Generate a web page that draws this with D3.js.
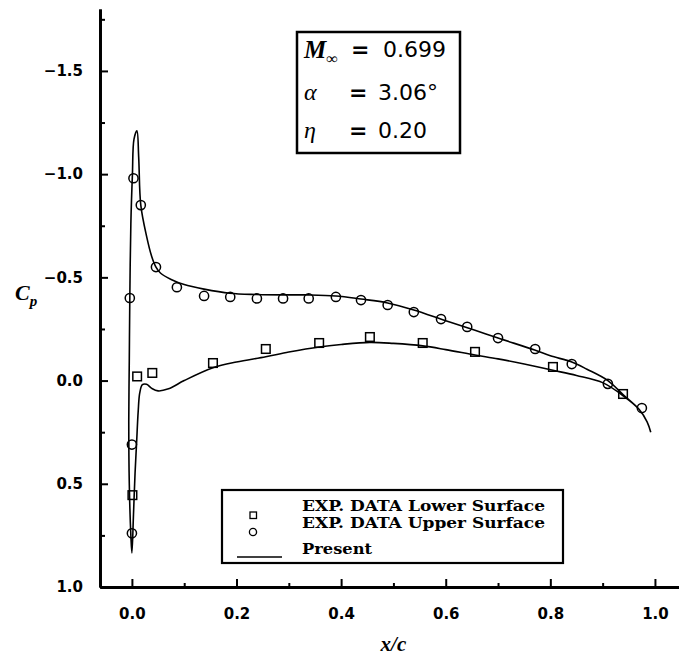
<!DOCTYPE html>
<html>
<head>
<meta charset="utf-8">
<script src="https://cdn.jsdelivr.net/npm/d3@7"></script>
<style>
  body { margin: 0; background: #fff; }
  svg { display: block; }
</style>
</head>
<body>
<script>
// experimental points, upper surface (circles)
var upperX  = [0.0, 0.0, -0.004, 0.003, 0.017, 0.046, 0.086, 0.138, 0.188, 0.239, 0.289, 0.338,
               0.39, 0.438, 0.489, 0.539, 0.591, 0.641, 0.70, 0.771, 0.841, 0.91, 0.975];
var upperCp = [0.74, 0.31, -0.40, -0.98, -0.85, -0.55, -0.452, -0.41, -0.405, -0.398, -0.398, -0.398,
               -0.405, -0.39, -0.366, -0.332, -0.298, -0.26, -0.206, -0.153, -0.08, 0.016, 0.133];

// experimental points, lower surface (squares)
var lowerX  = [0.001, 0.01, 0.039, 0.155, 0.256, 0.358, 0.455, 0.556, 0.656, 0.805, 0.939];
var lowerCp = [0.555, -0.02, -0.037, -0.085, -0.153, -0.182, -0.211, -0.182, -0.139, -0.066, 0.065];

// computed curve ("Present"), traced from upper TE round the LE to lower TE
var presentX  = [0.992, 0.985, 0.97, 0.94, 0.91, 0.87, 0.841, 0.80, 0.77, 0.70, 0.656, 0.60, 0.539,
                 0.489, 0.438, 0.39, 0.338, 0.289, 0.239, 0.187, 0.138, 0.10, 0.075, 0.055, 0.046,
                 0.038, 0.028, 0.017, 0.013, 0.0096, 0.004, 0.001, -0.002, -0.004, -0.005, -0.006,
                 -0.005, -0.002, 0.0, 0.003, 0.006, 0.009, 0.012, 0.015, 0.02, 0.028, 0.038, 0.05,
                 0.07, 0.10, 0.155, 0.20, 0.256, 0.30, 0.358, 0.40, 0.455, 0.50, 0.556, 0.60, 0.656,
                 0.70, 0.75, 0.805, 0.85, 0.90, 0.94, 0.97, 0.985, 0.992];
var presentCp = [0.25, 0.20, 0.14, 0.07, 0.0, -0.055, -0.09, -0.12, -0.148, -0.206, -0.244, -0.29, -0.342,
                 -0.376, -0.395, -0.41, -0.415, -0.415, -0.417, -0.423, -0.443, -0.465, -0.49, -0.52, -0.55,
                 -0.60, -0.70, -0.85, -1.08, -1.21, -1.17, -1.0, -0.76, -0.40, -0.10, 0.20,
                 0.50, 0.75, 0.835, 0.65, 0.45, 0.30, 0.15, 0.06, 0.02, 0.018, 0.038, 0.05,
                 0.04, 0.0, -0.062, -0.09, -0.115, -0.138, -0.163, -0.175, -0.185, -0.18, -0.168, -0.15, -0.124,
                 -0.105, -0.08, -0.05, -0.025, 0.01, 0.075, 0.14, 0.20, 0.25];

var xTicks = [0.0, 0.2, 0.4, 0.6, 0.8, 1.0];
var xMinor = [0.1, 0.3, 0.5, 0.7, 0.9];
var yTicks = [-1.5, -1.0, -0.5, 0.0, 0.5, 1.0];
var yMinor = [-1.75, -1.25, -0.75, -0.25, 0.25, 0.75];

var infoLabels = [["\u03b1", "=", "3.06\u00b0"], ["\u03b7", "=", "0.20"]];
var legendLabels = ["EXP. DATA Lower Surface", "EXP. DATA Upper Surface", "Present"];

var w = 679, h = 659;

var svg = d3.select("body").append("svg")
    .attr("width", w).attr("height", h);

var x = d3.scaleLinear().domain([-0.061, 1.046]).range([100, 679]);
var y = d3.scaleLinear().domain([-1.8, 1.0]).range([9, 587]);

var tickFont = "bold 15px 'DejaVu Sans', sans-serif";

// y axis
var yAxis = svg.append("g").attr("transform", "translate(" + x(-0.061) + ",0)")
    .call(d3.axisLeft(y).tickValues(yTicks).tickSize(-8).tickSizeOuter(0).tickPadding(17)
        .tickFormat(d3.format(".1f")));
svg.append("g").attr("transform", "translate(" + x(-0.061) + ",0)")
    .call(d3.axisLeft(y).tickValues(yMinor).tickSize(-5).tickSizeOuter(0).tickFormat(""));

// x axis
var xAxis = svg.append("g").attr("transform", "translate(0," + y(1.0) + ")")
    .call(d3.axisBottom(x).tickValues(xTicks).tickSize(-8).tickSizeOuter(0).tickPadding(21)
        .tickFormat(d3.format(".1f")));
svg.append("g").attr("transform", "translate(0," + y(1.0) + ")")
    .call(d3.axisBottom(x).tickValues(xMinor).tickSize(-4).tickSizeOuter(0).tickFormat(""));

svg.selectAll(".domain").attr("stroke", "#000").attr("stroke-width", 2.8);
svg.selectAll(".tick line").attr("stroke", "#000").attr("stroke-width", 2);
svg.selectAll(".tick text").style("font", tickFont).attr("fill", "#000");

// axis titles
svg.append("text").attr("x", 15).attr("y", 300)
    .style("font", "italic bold 22px 'Liberation Serif', serif")
    .text("C")
    .append("tspan").attr("dy", 6).style("font-size", "15px").text("p");

svg.append("text").attr("x", x(0.5)).attr("y", 651).attr("text-anchor", "middle")
    .style("font", "italic bold 21px 'Liberation Serif', serif")
    .text("x/c");

// computed curve
var present = d3.zip(presentX, presentCp);
svg.append("path").datum(present)
    .attr("d", d3.line().x((d) => x(d[0])).y((d) => y(d[1])).curve(d3.curveCatmullRom.alpha(0.5)))
    .attr("fill", "none").attr("stroke", "#000").attr("stroke-width", 1.6);

// upper surface circles
svg.selectAll(".up").data(d3.zip(upperX, upperCp)).enter()
    .append("circle").attr("class", "up")
    .attr("cx", (d) => x(d[0])).attr("cy", (d) => y(d[1])).attr("r", 4.6)
    .attr("fill", "none").attr("stroke", "#000").attr("stroke-width", 1.5);

// lower surface squares
svg.selectAll(".lo").data(d3.zip(lowerX, lowerCp)).enter()
    .append("rect").attr("class", "lo")
    .attr("x", (d) => x(d[0]) - 4.3).attr("y", (d) => y(d[1]) - 4.3)
    .attr("width", 8.6).attr("height", 8.6)
    .attr("fill", "none").attr("stroke", "#000").attr("stroke-width", 1.5);

// flow conditions box
var info = svg.append("g");
info.append("rect").attr("x", 297).attr("y", 32).attr("width", 163).attr("height", 121)
    .attr("fill", "#fff").attr("stroke", "#000").attr("stroke-width", 2.5);
var boxFont = "22px 'DejaVu Sans', sans-serif";
var m = info.append("text").attr("x", 304).attr("y", 58)
    .style("font", "italic bold 25px 'Liberation Serif', serif").text("M");
m.append("tspan").attr("dy", 6).style("font-size", "16px").style("font-style", "normal").text("\u221e");
info.append("text").attr("x", 351).attr("y", 57).style("font", "bold " + boxFont).text("=");
info.append("text").attr("x", 383).attr("y", 57).style("font", boxFont).text("0.699");
info.selectAll(".row").data(infoLabels).enter().append("g").attr("class", "row")
    .each(function (d, i) {
        var g = d3.select(this), by = 100 + i * 38;
        g.append("text").attr("x", 304).attr("y", by)
            .style("font", "italic 24px 'Liberation Serif', serif").text(d[0]);
        g.append("text").attr("x", 349).attr("y", by).style("font", "bold " + boxFont).text(d[1]);
        g.append("text").attr("x", 378).attr("y", by).style("font", boxFont).text(d[2]);
    });

// legend
var leg = svg.append("g");
leg.append("rect").attr("x", 222).attr("y", 490).attr("width", 341).attr("height", 73)
    .attr("fill", "#fff").attr("stroke", "#000").attr("stroke-width", 2.2);
leg.append("rect").attr("x", 250).attr("y", 512).attr("width", 6.5).attr("height", 6.5)
    .attr("fill", "none").attr("stroke", "#000").attr("stroke-width", 1.3);
leg.append("circle").attr("cx", 253).attr("cy", 532).attr("r", 3.6)
    .attr("fill", "none").attr("stroke", "#000").attr("stroke-width", 1.3);
leg.append("line").attr("x1", 237).attr("x2", 282).attr("y1", 557).attr("y2", 557)
    .attr("stroke", "#000").attr("stroke-width", 1.4);
var legBase = [511, 528, 554];
var legLen = [243, 243, 70];
leg.selectAll(".lt").data(legendLabels).enter().append("text").attr("class", "lt")
    .attr("x", 302).attr("y", (d, i) => legBase[i])
    .attr("textLength", (d, i) => legLen[i]).attr("lengthAdjust", "spacingAndGlyphs")
    .style("font", "bold 14.5px 'DejaVu Serif', serif")
    .text((d) => d);
</script>
</body>
</html>
